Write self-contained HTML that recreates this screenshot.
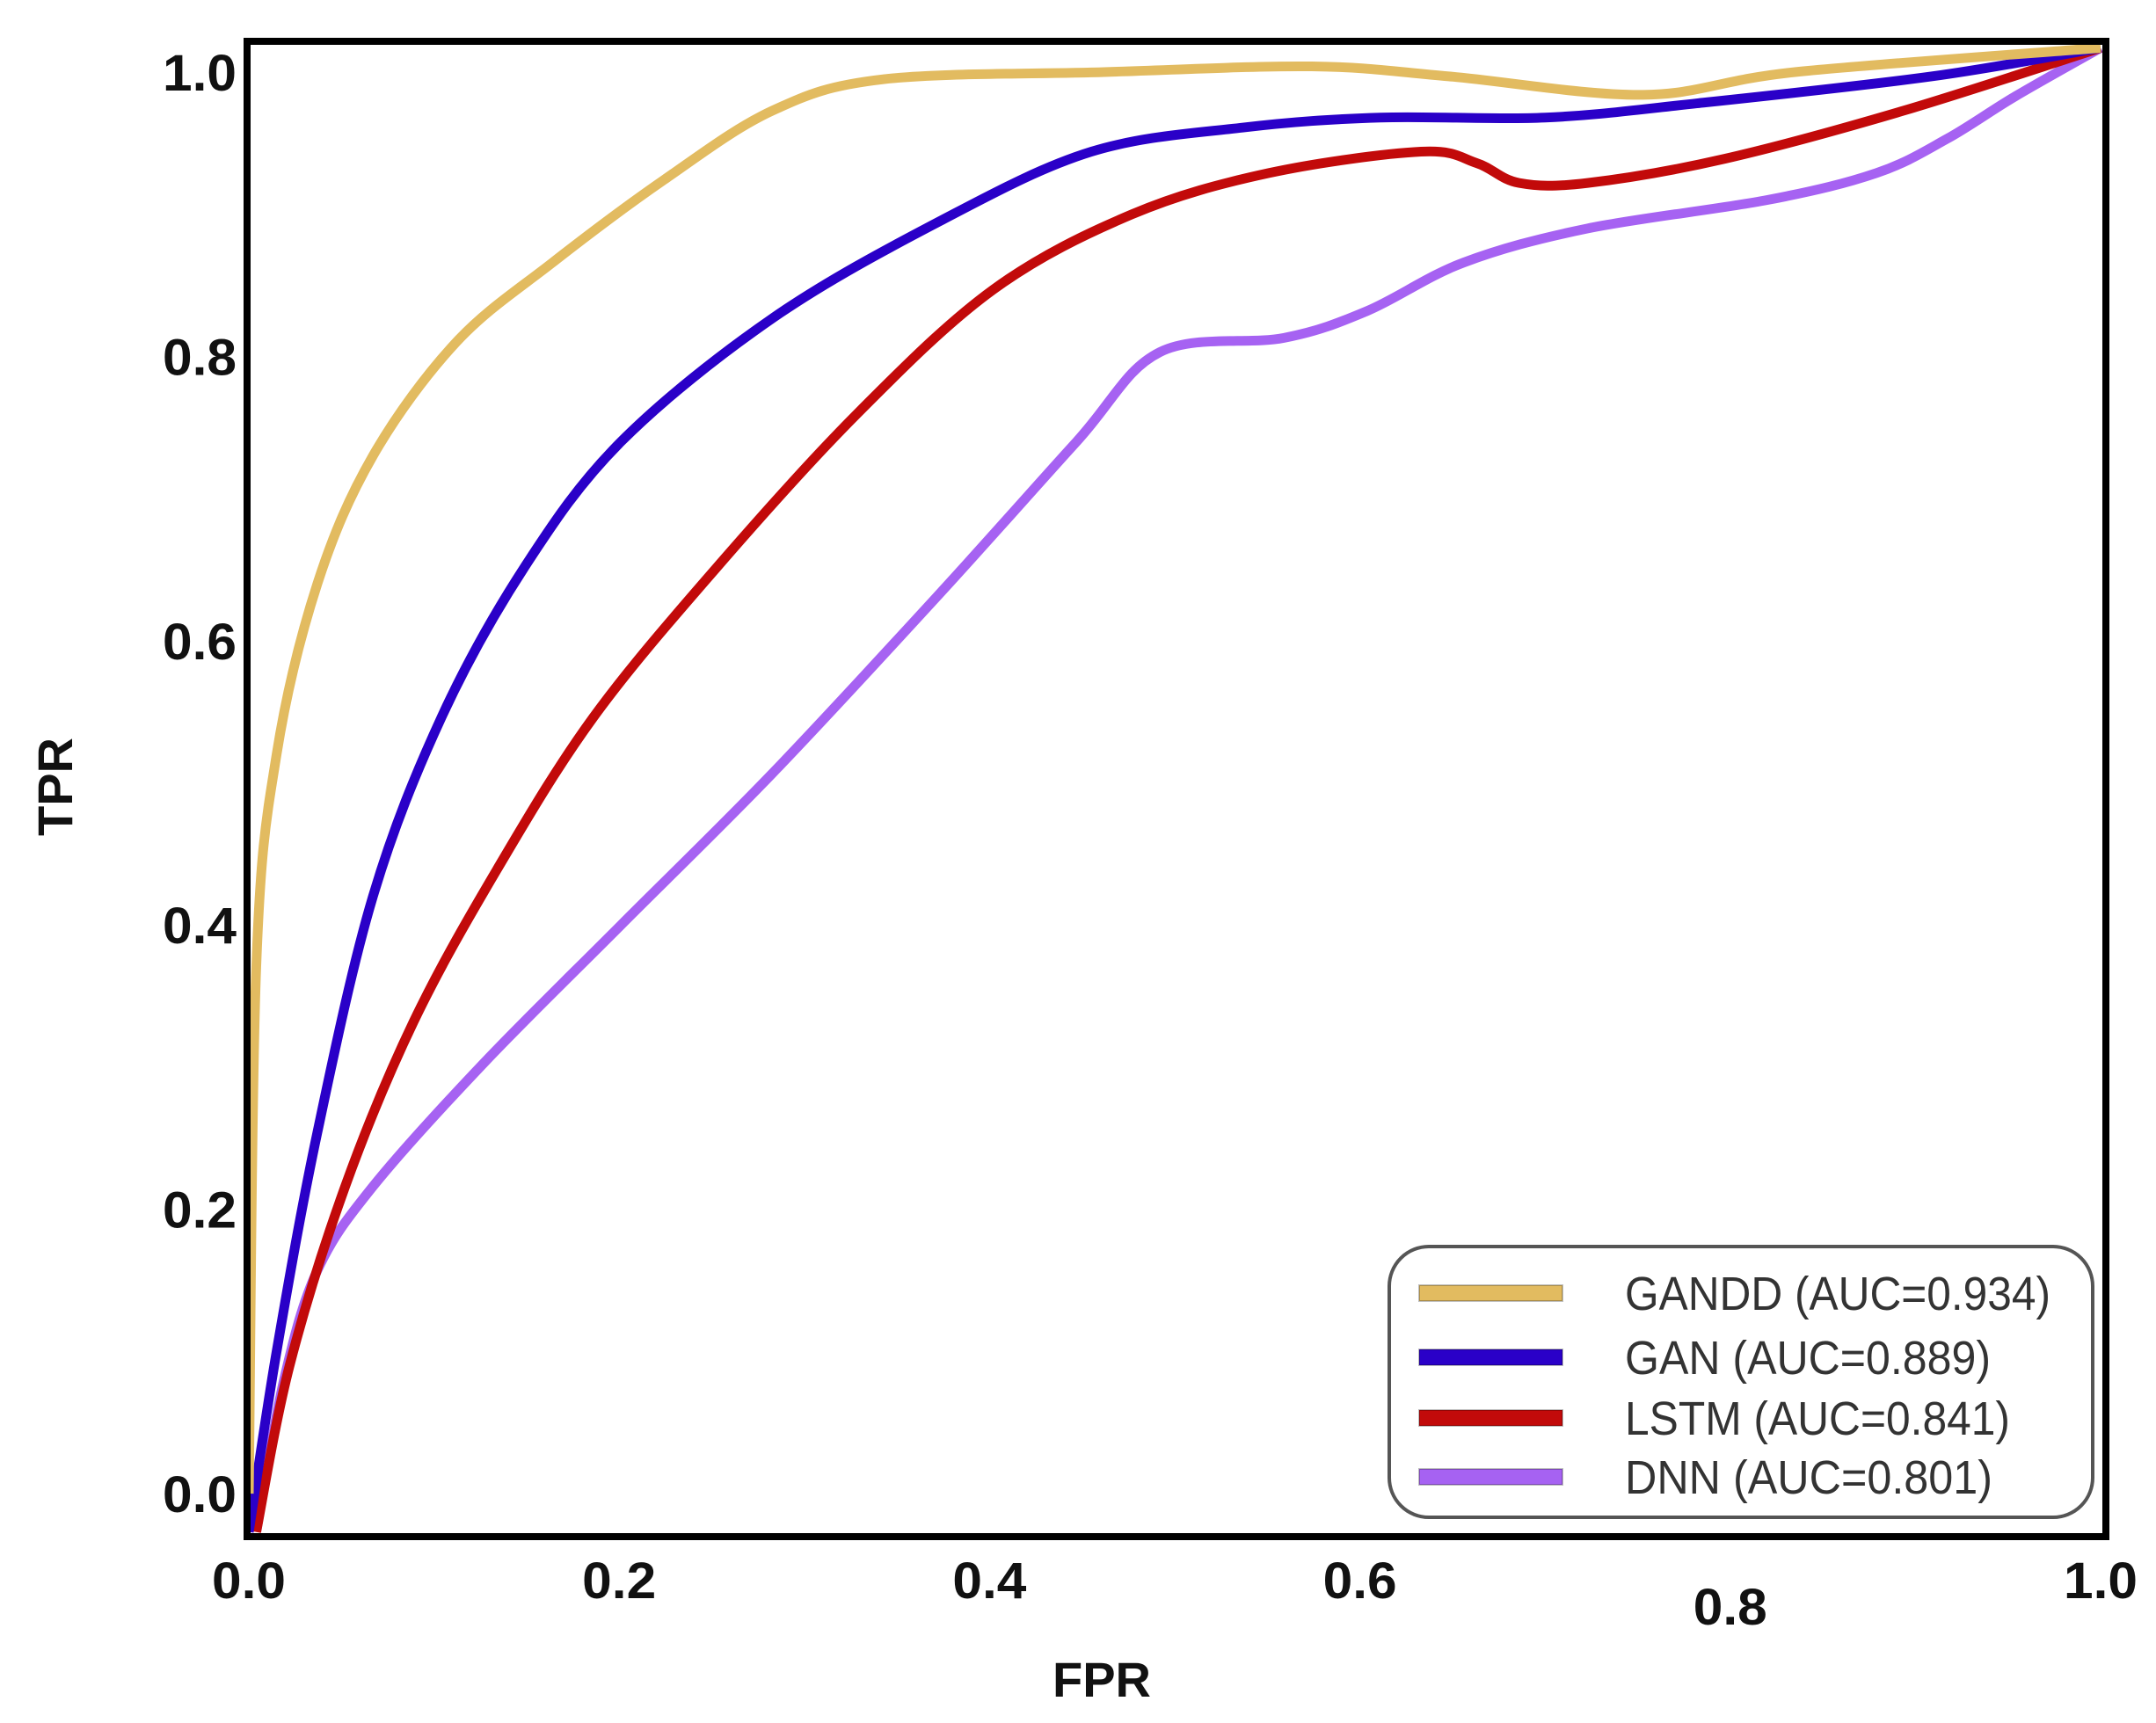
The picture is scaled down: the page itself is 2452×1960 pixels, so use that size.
<!DOCTYPE html>
<html><head><meta charset="utf-8"><style>
html,body{margin:0;padding:0;background:#fff;}
svg{display:block;}
text{font-family:"Liberation Sans","DejaVu Sans",sans-serif;}
</style></head><body>
<svg id="chart" width="2452" height="1960" viewBox="0 0 2452 1960" xmlns="http://www.w3.org/2000/svg">
<g id="curves"></g>
<rect x="281" y="47" width="2114" height="1701" fill="none" stroke="#000" stroke-width="8"/>
<g id="ticks"></g>
<text transform="translate(82,895) rotate(-90)" text-anchor="middle" font-size="56" font-weight="bold" fill="#111">TPR</text>
<text x="1253" y="1930" text-anchor="middle" font-size="56" font-weight="bold" fill="#111">FPR</text>
<g id="legend">
<rect x="1580" y="1418" width="800" height="308" rx="45" ry="45" fill="#fff" stroke="#555" stroke-width="4"/>
</g>
</svg>
<script>
const names = ["GANDD (AUC=0.934)","GAN (AUC=0.889)","LSTM (AUC=0.841)","DNN (AUC=0.801)"];
const colors = ["#e2bb60","#2a00c8","#c20a0a","#a662f2"];
const ganddX = [0,0.004,0.015,0.037,0.067,0.112,0.164,0.224,0.283,0.343,0.462,0.574,0.648,0.753,0.835,1];
const ganddY = [0,0.37,0.52,0.64,0.73,0.81,0.866,0.924,0.973,0.995,1.0,1.004,0.997,0.984,1.0,1.017];
const ganX = [0,0.015,0.037,0.067,0.104,0.149,0.201,0.283,0.373,0.455,0.537,0.611,0.7,0.782,0.909,1];
const ganY = [-0.027,0.1,0.254,0.42,0.546,0.652,0.74,0.827,0.895,0.944,0.961,0.968,0.968,0.978,0.997,1.017];
const lstmX = [0.004,0.022,0.052,0.089,0.134,0.186,0.253,0.328,0.402,0.477,0.551,0.633,0.663,0.686,0.723,0.797,0.894,1];
const lstmY = [-0.027,0.09,0.216,0.332,0.439,0.546,0.652,0.759,0.847,0.9,0.929,0.944,0.936,0.922,0.922,0.939,0.973,1.017];
const dnnX = [0.004,0.019,0.037,0.067,0.127,0.201,0.283,0.373,0.447,0.492,0.559,0.604,0.656,0.723,0.82,0.879,0.917,0.954,1];
const dnnY = [-0.027,0.08,0.157,0.216,0.303,0.4,0.507,0.633,0.74,0.803,0.813,0.832,0.866,0.89,0.91,0.929,0.953,0.983,1.017];
const xTicks = [0,0.2,0.4,0.6,0.8,1.0];
const xTickLabels = ["0.0","0.2","0.4","0.6","0.8","1.0"];
const yTicks = [0,0.2,0.4,0.6,0.8,1.0];
const yTickLabels = ["0.0","0.2","0.4","0.6","0.8","1.0"];

const X0=283, X1=2389, Y0=1699, Y1=82;
function sx(v){return X0+(X1-X0)*v;}
function sy(v){return Y0+(Y1-Y0)*v;}
const NS="http://www.w3.org/2000/svg";
function path(xs,ys){
  const p=xs.map((x,i)=>[sx(x),sy(ys[i])]);
  let d="M"+p[0][0]+","+p[0][1];
  for(let i=0;i<p.length-1;i++){
    const a=p[i-1]||p[i],b=p[i],c=p[i+1],e=p[i+2]||c;
    const c1=[b[0]+(c[0]-a[0])/6,b[1]+(c[1]-a[1])/6];
    const c2=[c[0]-(e[0]-b[0])/6,c[1]-(e[1]-b[1])/6];
    d+=" C"+c1.join(",")+" "+c2.join(",")+" "+c.join(",");
  }
  return d;
}
const series=[[ganddX,ganddY],[ganX,ganY],[lstmX,lstmY],[dnnX,dnnY]];
const seriesNames=["gandd-curve","gan-curve","lstm-curve","dnn-curve"];
const g=document.getElementById("curves");
for(let k=3;k>=0;k--){
  const el=document.createElementNS(NS,"path");
  el.setAttribute("d",path(series[k][0],series[k][1]));
  el.setAttribute("fill","none");el.setAttribute("stroke",colors[k]);
  el.setAttribute("stroke-width","11");el.setAttribute("stroke-linejoin","round");
  
  
  g.appendChild(el);
}
const t=document.getElementById("ticks");
xTicks.forEach((v,i)=>{
  const el=document.createElementNS(NS,"text");
  el.setAttribute("x",sx(v)-42);el.setAttribute("y",i==4?1848:1818);
  el.setAttribute("font-size","58");
  el.setAttribute("font-weight","bold");el.setAttribute("fill","#111");
  el.setAttribute("textLength","84");el.setAttribute("lengthAdjust","spacingAndGlyphs");
  el.textContent=xTickLabels[i];
  
  
  t.appendChild(el);
});
yTicks.forEach((v,i)=>{
  const el=document.createElementNS(NS,"text");
  el.setAttribute("x",185);el.setAttribute("y",sy(v)+21);
  el.setAttribute("font-size","58");
  el.setAttribute("font-weight","bold");el.setAttribute("fill","#111");
  el.setAttribute("textLength","84");el.setAttribute("lengthAdjust","spacingAndGlyphs");
  el.textContent=yTickLabels[i];
  
  
  t.appendChild(el);
});
const lg=document.getElementById("legend");
const ly=[1471,1544,1613,1680];
names.forEach((n,i)=>{
  const r=document.createElementNS(NS,"rect");
  r.setAttribute("x",1614);r.setAttribute("y",ly[i]-9);r.setAttribute("width",163);r.setAttribute("height",18);
  r.setAttribute("fill",colors[i]);r.setAttribute("stroke","rgba(0,0,0,0.25)");r.setAttribute("stroke-width","2");
  
  
  lg.appendChild(r);
  const tx=document.createElementNS(NS,"text");
  tx.setAttribute("x",1848);tx.setAttribute("y",ly[i]+19);
  tx.setAttribute("font-size","54");tx.setAttribute("fill","#333");
  tx.setAttribute("textLength",i==0?484:(i==1?416:(i==2?438:418)));
  tx.setAttribute("lengthAdjust","spacingAndGlyphs");
  tx.textContent=n;
  
  
  lg.appendChild(tx);
});
</script>
</body></html>
